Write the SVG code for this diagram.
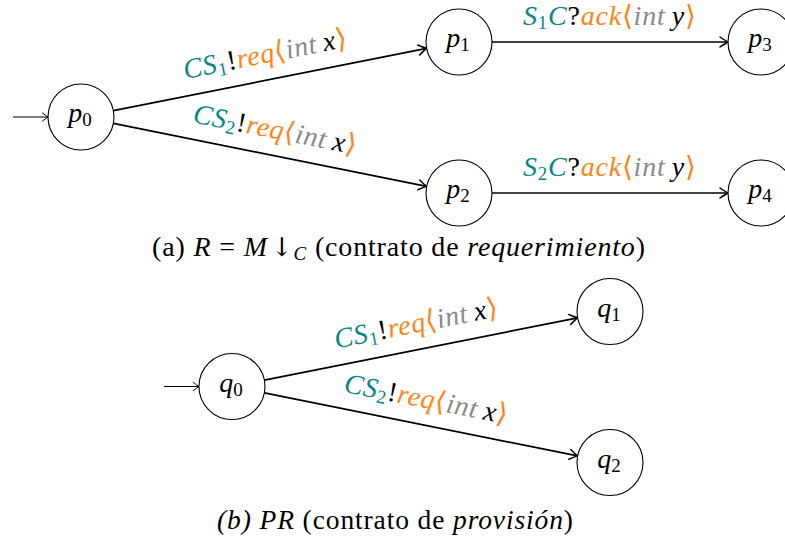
<svg xmlns="http://www.w3.org/2000/svg" width="785" height="548" viewBox="0 0 785 548" font-family="'Liberation Serif', 'DejaVu Serif', serif">
  <style>
    .state { fill: #ffffff; stroke: #000000; stroke-width: 1.1; }
    .edge { fill: none; stroke: #000000; stroke-width: 1.7; marker-end: url(#head); }
    .init { fill: none; stroke: #000000; stroke-width: 1; marker-end: url(#headThin); }
    text { font-family: "Liberation Serif", "DejaVu Serif", serif; fill: #000000; }
    .name { font-size: 28px; font-style: italic; }
    .lbl { font-size: 28px; }
    .cap { font-size: 28px; }
    .it { font-style: italic; }
    .up { font-style: normal; }
    .sub { font-size: 19px; font-style: normal; }
    .br { font-size: 28px; font-style: normal; }
    .teal { fill: #0a8585; }
    .org { fill: #ff8415; }
    .gry { fill: #8a8a8a; }
    .blk { fill: #000000; }
  </style>
  <defs>
    <marker id="head" markerUnits="userSpaceOnUse" markerWidth="14" markerHeight="14" viewBox="-9 -7 11 14" refX="0" refY="0" orient="auto" overflow="visible">
      <path d="M -8,-5 Q -2.5,-1.3 0,0 Q -2.5,1.3 -8,5" fill="none" stroke="#000" stroke-width="1.5" stroke-linecap="round" stroke-linejoin="round"/>
    </marker>
    <marker id="headThin" markerUnits="userSpaceOnUse" markerWidth="10" markerHeight="10" viewBox="-7 -5 8 10" refX="0" refY="0" orient="auto" overflow="visible">
      <path d="M -5.5,-4 Q -1.6,-1 0,0 Q -1.6,1 -5.5,4" fill="none" stroke="#000" stroke-width="1" stroke-linecap="round"/>
    </marker>
  </defs>

  <!-- (a) requirement contract -->
  <g id="connectors-a">
    <path class="init" d="M 13,117 L 48,117"/>
    <path class="edge" d="M 113.4,110.6 L 426.6,48.4"/>
    <path class="edge" d="M 113.4,123.4 L 426.6,186.4"/>
    <path class="edge" d="M 492,42 L 728,42"/>
    <path class="edge" d="M 492,193 L 728,193"/>
    <text class="lbl" x="-83" y="0" textLength="166" lengthAdjust="spacing" transform="translate(266.7,62.8) rotate(-11.22)"><tspan class="teal it">CS</tspan><tspan class="teal sub" dy="4">1</tspan><tspan class="blk up" dy="-4">!</tspan><tspan class="org it">req</tspan><tspan class="org br">⟨</tspan><tspan class="gry it">int</tspan><tspan class="blk it">&#8201;x</tspan><tspan class="org br">⟩</tspan></text>
    <text class="lbl" x="-83" y="0" textLength="166" lengthAdjust="spacing" transform="translate(273.3,138.3) rotate(11.22)"><tspan class="teal it">CS</tspan><tspan class="teal sub" dy="4">2</tspan><tspan class="blk up" dy="-4">!</tspan><tspan class="org it">req</tspan><tspan class="org br">⟨</tspan><tspan class="gry it">int</tspan><tspan class="blk it">&#8201;x</tspan><tspan class="org br">⟩</tspan></text>
    <text class="lbl" x="523" y="25" textLength="173" lengthAdjust="spacing"><tspan class="teal it">S</tspan><tspan class="teal sub" dy="4">1</tspan><tspan class="teal it" dy="-4">C</tspan><tspan class="blk up">?</tspan><tspan class="org it">ack</tspan><tspan class="org br">⟨</tspan><tspan class="gry it">int</tspan><tspan class="blk it">&#8201;y</tspan><tspan class="org br">⟩</tspan></text>
    <text class="lbl" x="523" y="176" textLength="173" lengthAdjust="spacing"><tspan class="teal it">S</tspan><tspan class="teal sub" dy="4">2</tspan><tspan class="teal it" dy="-4">C</tspan><tspan class="blk up">?</tspan><tspan class="org it">ack</tspan><tspan class="org br">⟨</tspan><tspan class="gry it">int</tspan><tspan class="blk it">&#8201;y</tspan><tspan class="org br">⟩</tspan></text>
  </g>

  <g id="p0">
    <circle class="state" cx="81" cy="117" r="33"/>
    <text class="name" x="80" y="122" text-anchor="middle">p<tspan class="sub" dy="4">0</tspan></text>
  </g>
  <g id="p1">
    <circle class="state" cx="459" cy="42" r="33"/>
    <text class="name" x="458" y="47" text-anchor="middle">p<tspan class="sub" dy="4">1</tspan></text>
  </g>
  <g id="p2">
    <circle class="state" cx="459" cy="193" r="33"/>
    <text class="name" x="458" y="198" text-anchor="middle">p<tspan class="sub" dy="4">2</tspan></text>
  </g>
  <g id="p3">
    <circle class="state" cx="761" cy="42" r="33"/>
    <text class="name" x="760" y="47" text-anchor="middle">p<tspan class="sub" dy="4">3</tspan></text>
  </g>
  <g id="p4">
    <circle class="state" cx="761" cy="193" r="33"/>
    <text class="name" x="760" y="198" text-anchor="middle">p<tspan class="sub" dy="4">4</tspan></text>
  </g>

  <text id="caption-a" class="cap" x="152" y="255.5" textLength="493" lengthAdjust="spacing">(a) <tspan class="it">R</tspan> = <tspan class="it">M</tspan>&#8202;<tspan style="font-family:'DejaVu Serif', serif; font-size:26px">↓</tspan><tspan class="it" font-size="19" dy="4">C</tspan><tspan dy="-4"> (contrato de </tspan><tspan class="it">requerimiento</tspan>)</text>

  <!-- (b) provision contract -->
  <g id="connectors-b">
    <path class="init" d="M 164,386.5 L 199,386.5"/>
    <path class="edge" d="M 264.4,380.1 L 577.6,317.9"/>
    <path class="edge" d="M 264.4,392.9 L 577.6,455.9"/>
    <text class="lbl" x="-83" y="0" textLength="166" lengthAdjust="spacing" transform="translate(417.7,332.3) rotate(-11.22)"><tspan class="teal it">CS</tspan><tspan class="teal sub" dy="4">1</tspan><tspan class="blk up" dy="-4">!</tspan><tspan class="org it">req</tspan><tspan class="org br">⟨</tspan><tspan class="gry it">int</tspan><tspan class="blk it">&#8201;x</tspan><tspan class="org br">⟩</tspan></text>
    <text class="lbl" x="-83" y="0" textLength="166" lengthAdjust="spacing" transform="translate(424.3,407.8) rotate(11.22)"><tspan class="teal it">CS</tspan><tspan class="teal sub" dy="4">2</tspan><tspan class="blk up" dy="-4">!</tspan><tspan class="org it">req</tspan><tspan class="org br">⟨</tspan><tspan class="gry it">int</tspan><tspan class="blk it">&#8201;x</tspan><tspan class="org br">⟩</tspan></text>
  </g>

  <g id="q0">
    <circle class="state" cx="232" cy="386.5" r="33"/>
    <text class="name" x="231" y="391.5" text-anchor="middle">q<tspan class="sub" dy="4">0</tspan></text>
  </g>
  <g id="q1">
    <circle class="state" cx="610" cy="311.5" r="33"/>
    <text class="name" x="609" y="316.5" text-anchor="middle">q<tspan class="sub" dy="4">1</tspan></text>
  </g>
  <g id="q2">
    <circle class="state" cx="610" cy="462.5" r="33"/>
    <text class="name" x="609" y="467.5" text-anchor="middle">q<tspan class="sub" dy="4">2</tspan></text>
  </g>

  <text id="caption-b" class="cap" x="217" y="528.5" textLength="356" lengthAdjust="spacing" style="font-size:27.5px"><tspan class="it">(b) PR</tspan> (contrato de <tspan class="it">provisión</tspan>)</text>
</svg>
